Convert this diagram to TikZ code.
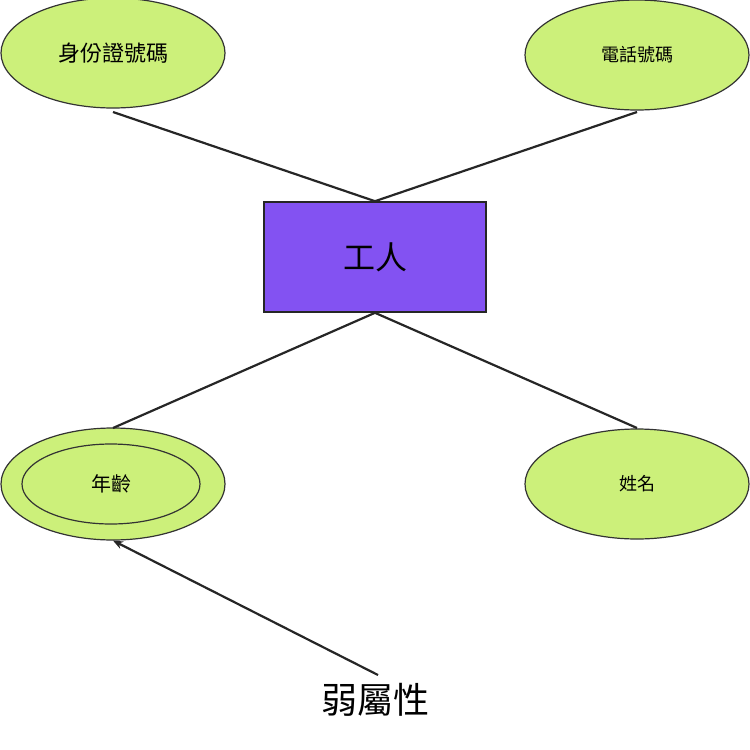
\documentclass[tikz,border=0pt]{standalone}
\usepackage{fontspec}
\setmainfont{Noto Sans CJK TC}
\usetikzlibrary{shapes.geometric,arrows.meta}
\definecolor{lg}{HTML}{CCF07A}
\definecolor{pp}{HTML}{8352F2}
\begin{document}
\begin{tikzpicture}[x=1pt,y=-1pt,
 attr/.style={ellipse,draw=black!80,line width=1.2pt,fill=lg,minimum width=224pt,minimum height=110pt,inner sep=0pt},
 conn/.style={line width=2.2pt,black!85}]
\useasboundingbox (0,0) rectangle (750,750);
\node[attr,font=\fontsize{22}{24}\selectfont] (id) at (113,53) {身份證號碼};
\node[attr,font=\fontsize{18}{20}\selectfont] (tel) at (637,55) {電話號碼};
\node[attr,minimum height=112pt] (age) at (113,484) {};
\node[ellipse,draw=black!80,line width=1.2pt,minimum width=178pt,minimum height=80pt,font=\fontsize{20}{22}\selectfont] (agei) at (111,484) {年齡};
\node[attr,font=\fontsize{18}{20}\selectfont] (name) at (637,484) {姓名};
\node[draw=black!85,line width=1.6pt,fill=pp,minimum width=222pt,minimum height=110pt,font=\fontsize{32}{34}\selectfont] (w) at (375,257) {工人};
\node[font=\fontsize{36}{38}\selectfont] (weak) at (375,700) {弱屬性};
\coordinate (a) at (113,112); \coordinate (b) at (637,112);
\coordinate (c) at (113,428); \coordinate (d) at (637,428);
\draw[conn] (a) -- (w.north); \draw[conn] (b) -- (w.north);
\draw[conn] (w.south) -- (c); \draw[conn] (w.south) -- (d);
\coordinate (e) at (378,675);
\draw[conn,-{Stealth[length=10pt,width=8pt]}] (e) -- (age.south);
\end{tikzpicture}
\end{document}
